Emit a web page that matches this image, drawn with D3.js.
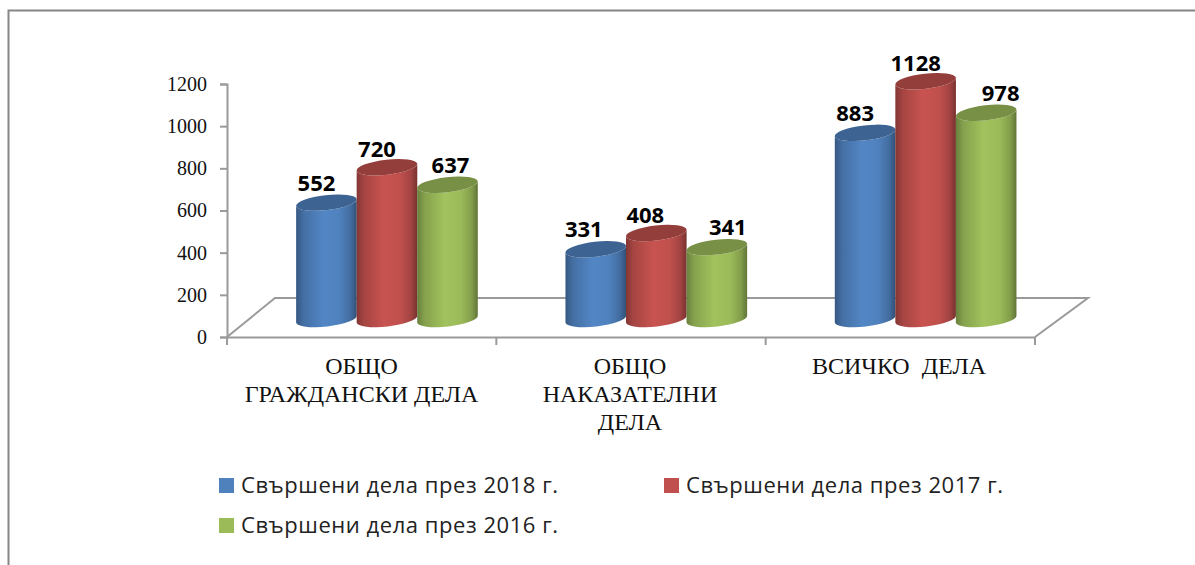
<!DOCTYPE html>
<html><head><meta charset="utf-8">
<script src="https://cdn.jsdelivr.net/npm/d3@7/dist/d3.min.js"></script>
<style>html,body{margin:0;padding:0;background:#fff;overflow:hidden}svg{display:block}</style>
</head><body><div id="c"></div>
<script>
const categories = ["ОБЩО ГРАЖДАНСКИ ДЕЛА","ОБЩО НАКАЗАТЕЛНИ ДЕЛА","ВСИЧКО  ДЕЛА"];
const categoryLines = [["ОБЩО","ГРАЖДАНСКИ ДЕЛА"],["ОБЩО","НАКАЗАТЕЛНИ","ДЕЛА"],["ВСИЧКО  ДЕЛА"]];
const seriesNames = ["Свършени дела през 2018 г.","Свършени дела през 2017 г.","Свършени дела през 2016 г."];
const values2018 = [552,331,883];
const values2017 = [720,408,1128];
const values2016 = [637,341,978];
const yTicks = [0,200,400,600,800,1000,1200];
const colors = ["#4F81BD","#C0504D","#9BBB59"];
const series = [values2018,values2017,values2016];

const W=1195,H=565;
const svg=d3.select("#c").append("svg").attr("width",W).attr("height",H);
const defs=svg.append("defs");
const axisCol="#9a9a9a";
const serif="'Liberation Serif',serif", sans="'Open Sans','Noto Sans',sans-serif";

// frame (open on the right and bottom, as cropped in the reference)
svg.append("path").attr("d",`M8.5,${H}V10.5H${W}`).attr("fill","none").attr("stroke","#868686").attr("stroke-width",2);

const y=d3.scaleLinear().domain([0,1200]).range([337,84]);
const x0=d3.scaleBand().domain(categories).range([227,1035]);
const x1=d3.scaleBand().domain(seriesNames).range([0,x0.step()]).paddingOuter(0.725).paddingInner(0);
const depthX=48, depthY=39;      // floor offset of the 3D box
const barShiftX=25.3, barShiftY=18; // bars stand in the middle of the floor depth
const rx=30.5, ry=7.5, tilt=-6.5;
const labelDx=[[-11,-11,2],[-13,-12,10],[-11,-11,13.5]];
const labelDy=[-12,-10,-12];

// floor
svg.append("path").attr("d",`M227,337L${227+depthX},${337-depthY}H${1035+depthX+5}L1035,337`)
  .attr("fill","none").attr("stroke",axisCol).attr("stroke-width",2);

// y axis
const gy=svg.append("g").attr("transform","translate(227,0)")
  .call(d3.axisLeft(y).tickValues(yTicks).tickSize(7).tickPadding(13).tickFormat(d3.format("d")));
gy.selectAll("line,path").attr("stroke",axisCol).attr("stroke-width",2);
gy.selectAll("text").attr("font-family",serif).attr("font-size",20).attr("fill","#111");

// x axis
const gx=svg.append("g").attr("transform","translate(0,337)")
  .call(d3.axisBottom(x0).tickValues([]).tickSizeOuter(0));
gx.select("path").attr("stroke",axisCol).attr("stroke-width",2);
gx.selectAll(".sep").data(d3.range(categories.length+1)).join("line").attr("class","sep")
  .attr("x1",i=>227+i*x0.step()).attr("x2",i=>227+i*x0.step()).attr("y1",0).attr("y2",8)
  .attr("stroke",axisCol).attr("stroke-width",2);
const catLabels=[361.5,630,899];
categoryLines.forEach((lines,i)=>{
  svg.append("text").attr("text-anchor","middle").attr("font-family",serif).attr("font-size",24).attr("fill","#111")
    .selectAll("tspan").data(lines).join("tspan")
    .attr("x",catLabels[i]).attr("y",(d,k)=>374+k*28).style("white-space","pre").text(d=>d);
});

// gradients
colors.forEach((c,i)=>{
  const g=defs.append("linearGradient").attr("id","g"+i);
  const base=d3.color(c);
  [[0,0.68],[0.12,0.86],[0.45,1.04],[0.72,1],[0.9,0.84],[1,0.62]].forEach(([o,k])=>{
    g.append("stop").attr("offset",o).attr("stop-color",d3.rgb(base.r*k,base.g*k,base.b*k));
  });
});

// bars, drawn left to right so each overlaps the previous one
const t=tilt*Math.PI/180;
const ex=rx*Math.cos(t), ey=rx*Math.sin(t);
const baseY=y(0)-barShiftY;
const scale=y(0)-y(1);
categories.forEach((cat,ci)=>{
  seriesNames.forEach((name,si)=>{
    const v=series[si][ci];
    const cx=x0(cat)+x1(name)+x1.bandwidth()/2+barShiftX;
    const top=baseY-v*scale;
    const g=svg.append("g");
    g.append("path").attr("fill",`url(#g${si})`)
      .attr("d",`M${cx-ex},${top-ey}A${rx},${ry},${tilt},0,0,${cx+ex},${top+ey}L${cx+ex},${baseY+ey}A${rx},${ry},${tilt},0,1,${cx-ex},${baseY-ey}Z`);
    const d=d3.color(colors[si]);
    g.append("ellipse").attr("cx",0).attr("cy",0).attr("rx",rx).attr("ry",ry)
      .attr("transform",`translate(${cx},${top}) rotate(${tilt})`)
      .attr("fill",d3.rgb(d.r*0.77,d.g*0.77,d.b*0.77));
    svg.append("text").datum(v).attr("class","lab").attr("x",cx+labelDx[ci][si]+1).attr("y",top+labelDy[si])
      .attr("text-anchor","middle").attr("font-family",sans).attr("font-weight",700).attr("font-size",22).attr("fill","#000").text(v);
  });
});
svg.selectAll("text.lab").raise();

// legend
const legendPos=[[219,493],[664,493],[219,533]];
seriesNames.forEach((n,i)=>{
  const [lx,ly]=legendPos[i];
  svg.append("rect").attr("x",lx).attr("y",ly-15).attr("width",15).attr("height",15).attr("fill",colors[i]);
  svg.append("text").attr("x",lx+22).attr("y",ly).attr("font-family",sans).attr("font-size",22).attr("letter-spacing",0.55).attr("fill","#222").text(n);
});
</script>
</body></html>
